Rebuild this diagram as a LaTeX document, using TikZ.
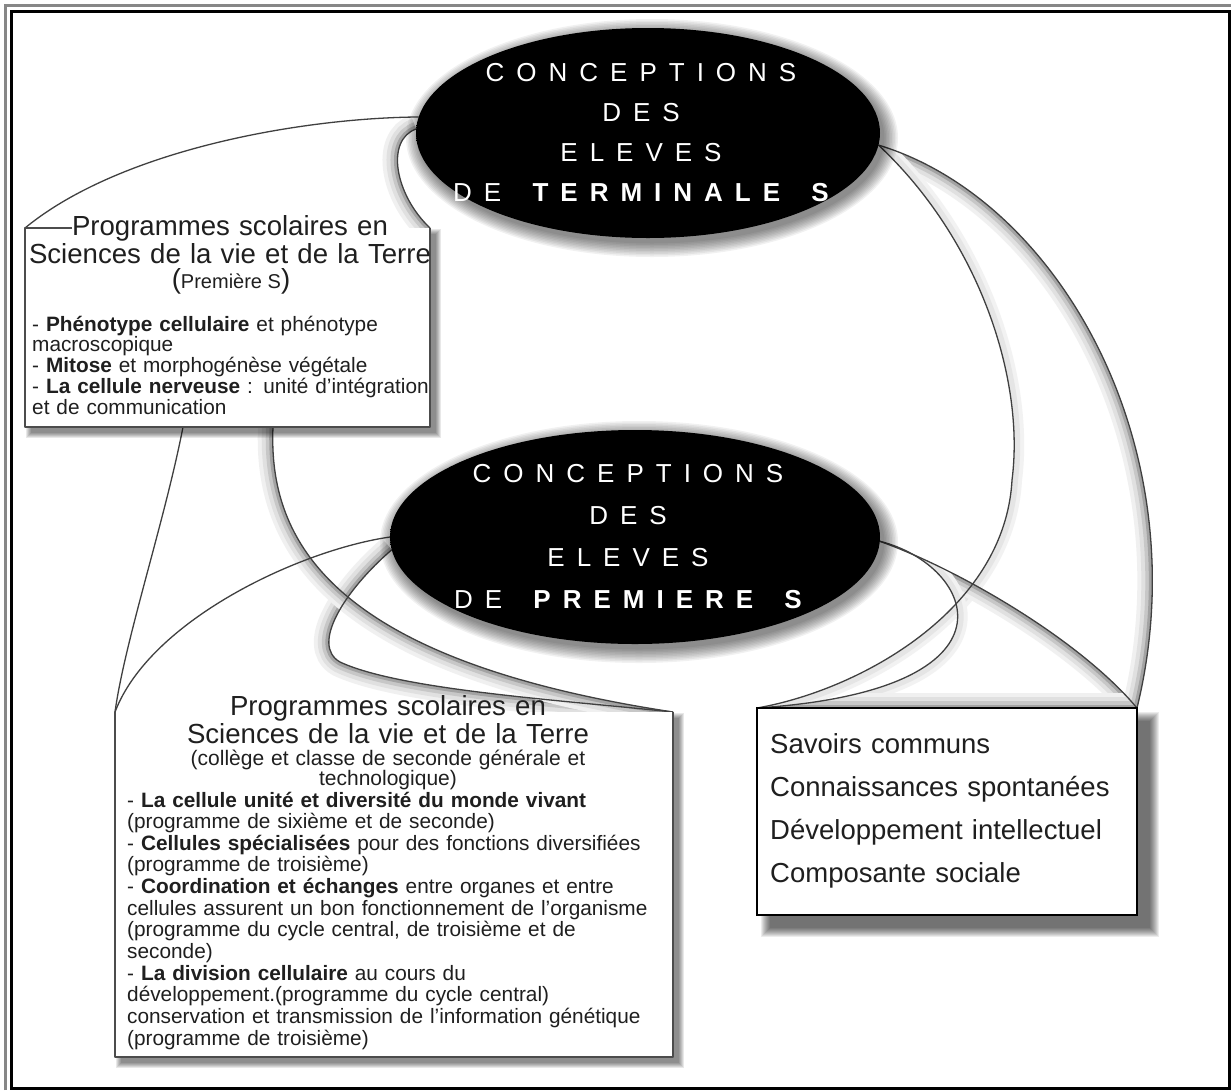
\documentclass[tikz,border=0pt]{standalone}
\usepackage{fontspec}
\setmainfont{Liberation Sans}
\usetikzlibrary{shapes.geometric}

\pgfdeclarelayer{links}
\pgfdeclarelayer{shadows}
\pgfsetlayers{links,shadows,main}

% black ellipse, lighter towards its upper-left rim
\pgfdeclareradialshading{rimshade}{\pgfpoint{12bp}{-10bp}}{%
  color(0bp)=(black); color(45bp)=(black); color(53bp)=(black!78);
  color(61bp)=(black!42); color(72bp)=(black!25)}

% letter-spaced capitals
\newlength\lsp
\setlength\lsp{12pt}
\def\lgap{\hskip\lsp\relax}
\def\lettersp#1{\letterspA#1\relax}
\def\letterspA#1#2{#1\ifx\relax#2\else\lgap\expandafter\letterspA\expandafter#2\fi}
\def\apos{\char39\relax}

\newcommand\titlefont{\fontsize{27.6}{28}\selectfont}
\newcommand\bodyfontA{\fontsize{20.8}{20.75}\selectfont}
\newcommand\bodyfontB{\fontsize{20.8}{21.64}\selectfont}
\newcommand\subfont{\fontsize{21}{20}\selectfont}
\newcommand\listfont{\fontsize{27.5}{43}\selectfont}
\newcommand\ellfont{\fontsize{26}{40}\selectfont}

\newcommand\bandalong[1]{\foreach \w/\c in {30/6,22/12,14/22,7/36}{\draw[line width=\w pt, black!\c, #1];}}
\newcommand\lightband[1]{\foreach \w/\c in {20/5,12/10}{\draw[line width=\w pt, black!\c, #1];}}

\tikzset{
  oval/.style={ellipse, shade, shading=rimshade, inner sep=0pt, outer sep=0pt},
  elltext/.style={text=white, align=center, inner sep=0pt, font=\ellfont},
  boxfill/.style={fill=white, draw=none, inner sep=0pt, outer sep=0pt, anchor=north west},
  boxedge/.style={draw=black!70, line width=1.6pt, line join=round},
  txt/.style={inner sep=0pt, text=black!88},
  link/.style={draw=black!75, line width=1.3pt},
  % connector curves
  cA/.style={insert path={(term.176) .. controls (300,118) and (120,150) .. (pbox1.north west)}},
  cB/.style={insert path={(term.179) .. controls (385,140) and (395,195) .. (pbox1.north east)}},
  wA/.style={insert path={(term.176) .. controls (300,118) and (120,150) .. (pbox1.north west)
     -- (pbox1.north east) .. controls (395,195) and (385,140) .. (term.179) -- cycle}},
  cC/.style={insert path={(term.-3) .. controls (1060,200) and (1200,450) .. (pbox3.north east)}},
  cD/.style={insert path={(term.-3) .. controls (980,240) and (1025,380) .. (1012,480)
     .. controls (1005,610) and (860,690) .. (pbox3.north west)}},
  wB/.style={insert path={(term.-3) .. controls (1060,200) and (1200,450) .. (pbox3.north east)
     -- (pbox3.north west) .. controls (860,690) and (1005,610) .. (1012,480)
     .. controls (1025,380) and (980,240) .. (term.-3) -- cycle}},
  cE/.style={insert path={(prem.-1) .. controls (960,570) and (1080,640) .. (pbox3.north east)}},
  cF/.style={insert path={(prem.-1) .. controls (975,565) and (1030,690) .. (pbox3.north west)}},
  wC/.style={insert path={(prem.-1) .. controls (960,570) and (1080,640) .. (pbox3.north east)
     -- (pbox3.north west) .. controls (1030,690) and (975,565) .. (prem.-1) -- cycle}},
  baseC/.style={insert path={(pbox3.north west) -- (pbox3.north east)}},
  cG/.style={insert path={(prem.180) .. controls (300,550) and (150,620) .. (pbox2.north west)}},
  cH/.style={insert path={(prem.183) .. controls (345,590) and (310,645) .. (340,662)
     .. controls (400,690) and (560,700) .. (pbox2.north east)}},
  wD/.style={insert path={(prem.180) .. controls (300,550) and (150,620) .. (pbox2.north west)
     -- (pbox2.north east) .. controls (560,700) and (400,690) .. (340,662)
     .. controls (310,645) and (345,590) .. (prem.183) -- cycle}},
  cI/.style={insert path={(b1L) .. controls (165,520) and (125,640) .. (pbox2.north west)}},
  cJ/.style={insert path={(b1R) .. controls (268,540) and (330,660) .. (pbox2.north east)}},
  wE/.style={insert path={(b1L) .. controls (165,520) and (125,640) .. (pbox2.north west)
     -- (pbox2.north east) .. controls (330,660) and (268,540) .. (b1R) -- cycle}},
}

\begin{document}
\begin{tikzpicture}[x=1pt,y=-1pt]
\useasboundingbox (0,0) rectangle (1231,1090);

% ---------- ovals ----------
\node[oval, minimum width=464, minimum height=210] (term) at (648,133) {};
\node[oval, minimum width=490, minimum height=214] (prem) at (635,537) {};

% ---------- boxes ----------
\node[boxfill, minimum width=405, minimum height=199] (pbox1) at (25,228) {};
\node[boxfill, minimum width=558, minimum height=345] (pbox2) at (115,712) {};
\node[boxfill, draw=black, line width=2.2pt, minimum width=380, minimum height=207] (pbox3) at (757,708) {};
\draw[boxedge] ([xshift=47pt]pbox1.north west) -- (pbox1.north west) -- (pbox1.south west)
  -- (pbox1.south east) -- (pbox1.north east);
\draw[boxedge] (pbox2.north west) -- (pbox2.south west) -- (pbox2.south east) -- (pbox2.north east);

\coordinate (b1L) at ([xshift=158pt]pbox1.south west);
\coordinate (b1R) at ([xshift=248pt]pbox1.south west);

% ---------- texts in the ovals ----------
\node[elltext] (termtxt) at (641,133)
  {\lettersp{CONCEPTIONS}\\\lettersp{DES}\\\lettersp{ELEVES}\\
   \lettersp{DE}\lgap\ \lgap\textbf{\lettersp{TERMINALE}\lgap\ \lgap S}};
\node[elltext, font=\fontsize{26}{42}\selectfont] (premtxt) at (628,537)
  {\lettersp{CONCEPTIONS}\\\lettersp{DES}\\\lettersp{ELEVES}\\
   \lettersp{DE}\lgap\ \lgap\textbf{\lettersp{PREMIERE}\lgap\ \lgap S}};

% ---------- texts in the boxes ----------
\node[txt, anchor=base, text width=420, align=center, font=\titlefont] (t1title) at (230,235)
  {Programmes scolaires en\\Sciences de la vie et de la Terre};
\node[txt, anchor=base] (t1sub) at (231,288)
  {\titlefont(\fontsize{20}{20}\selectfont Première S\titlefont)};
\node[txt, anchor=base west, text width=420, align=left, font=\bodyfontA] (t1body) at (32,331)
  {- \textbf{Phénotype cellulaire} et phénotype\\
   macroscopique\\
   - \textbf{Mitose} et morphogénèse végétale\\
   - \textbf{La cellule nerveuse} : unité d\apos intégration\\
   et de communication};

\node[txt, anchor=base, text width=520, align=center, font=\titlefont] (t2title) at (388,715)
  {Programmes scolaires en\\Sciences de la vie et de la Terre};
\node[txt, anchor=base, text width=520, align=center, font=\subfont] (t2sub) at (388,765)
  {(collège et classe de seconde générale et\\technologique)};
\node[txt, anchor=base west, text width=560, align=left, font=\bodyfontB] (t2body) at (127,807)
  {- \textbf{La cellule unité et diversité du monde vivant}\\
   (programme de sixième et de seconde)\\
   - \textbf{Cellules spécialisées} pour des fonctions diversifiées\\
   (programme de troisième)\\
   - \textbf{Coordination et échanges} entre organes et entre\\
   cellules assurent un bon fonctionnement de l\apos organisme\\
   (programme du cycle central, de troisième et de\\
   seconde)\\
   - \textbf{La division cellulaire} au cours du\\
   développement.(programme du cycle central)\\
   conservation et transmission de l\apos information génétique\\
   (programme de troisième)};

\node[txt, anchor=base west, text width=370, align=left, font=\listfont] (t3list) at (770,753)
  {Savoirs communs\\Connaissances spontanées\\Développement intellectuel\\Composante sociale};

% ---------- soft shadows ----------
\begin{pgfonlayer}{shadows}
  \foreach \k in {1,...,10}{
    \fill[black, opacity=0.055] ([shift={(4,5)}]term.center) ellipse [x radius=231+1.5*\k, y radius=104+1.5*\k];
    \fill[black, opacity=0.055] ([shift={(4,5)}]prem.center) ellipse [x radius=244+1.5*\k, y radius=106+1.5*\k];
  }
  \foreach \k in {0,...,5}{
    \fill[black, opacity=0.09] ([shift={(6-\k,6-\k)}]pbox1.north west) rectangle ([shift={(6+\k,6+\k)}]pbox1.south east);
    \fill[black, opacity=0.09] ([shift={(6-\k,6-\k)}]pbox2.north west) rectangle ([shift={(6+\k,6+\k)}]pbox2.south east);
  }
  \foreach \k in {0,...,9}{
    \fill[black, opacity=0.075] ([shift={(13-\k,13-\k)}]pbox3.north west) rectangle ([shift={(13+\k,13+\k)}]pbox3.south east);
  }
\end{pgfonlayer}

% ---------- connectors ----------
\begin{pgfonlayer}{links}
  \fill[white] (0,0) rectangle (1231,1090);
  \begin{scope} \clip[wA]; \bandalong{cB} \end{scope}
  \begin{scope} \clip[wB]; \bandalong{cC} \lightband{cD} \end{scope}
  \begin{scope} \clip[wC]; \bandalong{cE} \lightband{cF} \bandalong{baseC} \end{scope}
  \begin{scope} \clip[wD]; \bandalong{cH} \end{scope}
  \begin{scope} \clip[wE]; \bandalong{cJ} \end{scope}
  \draw[link, cA];
  \draw[link, cB];
  \draw[link, cC];
  \draw[link, cD];
  \draw[link, cE];
  \draw[link, cF];
  \draw[link, cG];
  \draw[link, cH];
  \draw[link, cI];
  \draw[link, cJ];
\end{pgfonlayer}

% ---------- frame ----------
\draw[black!47, line width=3.5pt] (5.5,1090) -- (5.5,5.5) -- (1231,5.5);
\draw[black, line width=3pt] (11.5,11.5) rectangle (1229,1088.5);
\end{tikzpicture}
\end{document}
